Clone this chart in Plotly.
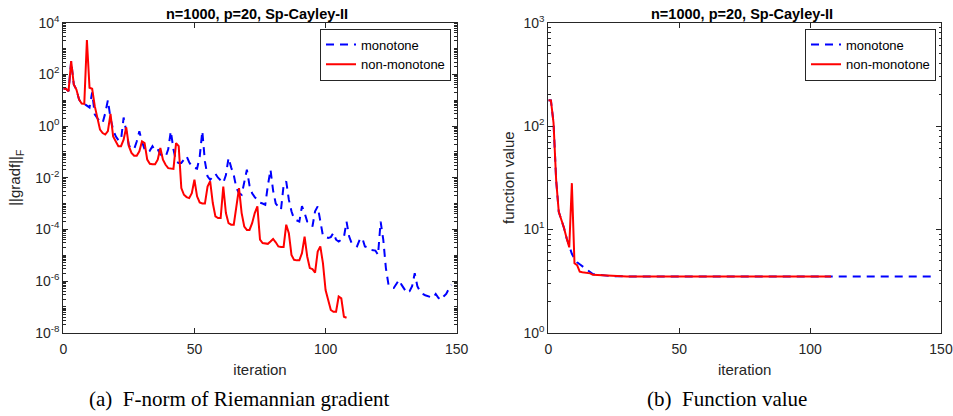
import plotly.graph_objects as go

# ---------------- data ----------------
# left panel: log10 of ||grad f||_F per iteration
grad_mono_log10 = [
    1.44, 1.44, 1.35, 2.51, 1.61, 1.41, 1.03, 0.87, 0.86, 0.78,
    0.72, 1.30, 0.45, 0.30, 0.15, 0.12, 0.50, 1.00, 0.30, -0.15,
    -0.40, -0.55, -0.55, 0.33, -0.30, -0.75, -0.85, -0.90, -0.60, -0.20,
    -0.60, -0.90, -0.85, -0.95, -0.78, -0.95, -0.90, -1.10, -1.15, -1.20,
    -0.90, -0.20, -0.90, -1.37, -1.43, -1.43, -1.30, -1.17, -1.40, -1.56,
    -1.62, -1.65, -1.20, -0.20, -1.37, -1.95, -2.08, -1.95, -1.85, -2.00,
    -2.10, -2.20, -1.90, -1.23, -1.60, -1.90, -2.40, -2.60, -2.66, -2.20,
    -1.69, -2.30, -2.60, -2.75, -2.85, -2.97, -3.00, -3.05, -2.30, -1.69,
    -2.50, -3.00, -3.13, -3.24, -2.30, -2.14, -2.85, -3.30, -3.60, -3.65,
    -3.70, -3.10, -3.36, -3.70, -3.75, -3.89, -3.30, -3.11, -3.75, -4.25,
    -4.30, -4.33, -4.30, -4.13, -4.40, -4.47, -4.40, -4.30, -3.70, -4.28,
    -4.55, -4.62, -4.66, -4.40, -4.33, -4.66, -4.70, -4.79, -4.80, -4.82,
    -4.99, -3.70, -4.40, -5.50, -6.15, -6.25, -6.27, -6.10, -5.96, -6.15,
    -6.30, -6.46, -6.40, -6.20, -5.70, -6.20, -6.40, -6.50, -6.55, -6.60,
    -6.62, -6.65, -6.50, -6.65, -6.73, -6.60, -6.50, -6.30, -6.15,
]
grad_nonmono_log10 = [
    1.44, 1.44, 1.35, 2.51, 1.61, 1.41, 1.03, 0.87, 0.86, 3.33,
    1.48, 1.44, 0.77, 0.25, -0.14, -0.27, -0.33, -0.20, 0.47, -0.40,
    -0.59, -0.78, -0.78, -0.53, -0.05, -0.78, -1.04, -1.15, -1.15, -0.98,
    -0.59, -0.66, -1.30, -1.46, -1.48, -1.48, -1.30, -0.85, -1.30, -1.50,
    -1.63, -1.66, -1.66, -0.66, -0.78, -2.40, -2.66, -2.75, -2.79, -2.60,
    -2.08, -2.72, -2.96, -3.00, -3.00, -2.34, -2.14, -2.98, -3.50, -3.56,
    -3.56, -2.34, -3.37, -3.76, -3.82, -3.82, -3.10, -2.40, -3.37, -3.89,
    -4.02, -4.02, -3.76, -3.37, -3.11, -4.40, -4.53, -4.55, -4.56, -4.47,
    -4.37, -4.50, -4.66, -4.68, -4.68, -3.82, -4.15, -4.99, -5.18, -5.20,
    -5.20, -4.92, -4.28, -5.05, -5.50, -5.54, -5.67, -4.86, -4.66, -5.31,
    -6.35, -6.73, -7.12, -7.19, -7.19, -6.60, -6.67, -7.38, -7.42,
]

# right panel: function value per iteration
fval_mono = [
    178, 177, 107, 30, 14.8, 12.5, 10.3, 8.2, 6.7, 5.8,
    5.2, 4.8, 4.6, 4.4, 4.2, 4.0, 3.8, 3.7, 3.65, 3.62,
    3.6, 3.58, 3.56, 3.54, 3.53, 3.52, 3.51, 3.5, 3.5, 3.5,
    3.5, 3.5, 3.5, 3.5, 3.5, 3.5, 3.5, 3.5, 3.5, 3.5,
    3.5, 3.5, 3.5, 3.5, 3.5, 3.5, 3.5, 3.5, 3.5, 3.5,
    3.5, 3.5, 3.5, 3.5, 3.5, 3.5, 3.5, 3.5, 3.5, 3.5,
    3.5, 3.5, 3.5, 3.5, 3.5, 3.5, 3.5, 3.5, 3.5, 3.5,
    3.5, 3.5, 3.5, 3.5, 3.5, 3.5, 3.5, 3.5, 3.5, 3.5,
    3.5, 3.5, 3.5, 3.5, 3.5, 3.5, 3.5, 3.5, 3.5, 3.5,
    3.5, 3.5, 3.5, 3.5, 3.5, 3.5, 3.5, 3.5, 3.5, 3.5,
    3.5, 3.5, 3.5, 3.5, 3.5, 3.5, 3.5, 3.5, 3.5, 3.5,
    3.5, 3.5, 3.5, 3.5, 3.5, 3.5, 3.5, 3.5, 3.5, 3.5,
    3.5, 3.5, 3.5, 3.5, 3.5, 3.5, 3.5, 3.5, 3.5, 3.5,
    3.5, 3.5, 3.5, 3.5, 3.5, 3.5, 3.5, 3.5, 3.5, 3.5,
    3.5, 3.5, 3.5, 3.5, 3.5, 3.5, 3.5, 3.5, 3.5,
]
fval_nonmono = [
    178, 177, 107, 30, 14.8, 12.5, 10.3, 8.2, 6.7, 28,
    4.7, 4.5, 3.9, 3.85, 3.82, 3.8, 3.75, 3.63, 3.62, 3.6,
    3.6, 3.58, 3.55, 3.53, 3.52, 3.5, 3.5, 3.5, 3.5, 3.5,
    3.5, 3.5, 3.5, 3.5, 3.5, 3.5, 3.5, 3.5, 3.5, 3.5,
    3.5, 3.5, 3.5, 3.5, 3.5, 3.5, 3.5, 3.5, 3.5, 3.5,
    3.5, 3.5, 3.5, 3.5, 3.5, 3.5, 3.5, 3.5, 3.5, 3.5,
    3.5, 3.5, 3.5, 3.5, 3.5, 3.5, 3.5, 3.5, 3.5, 3.5,
    3.5, 3.5, 3.5, 3.5, 3.5, 3.5, 3.5, 3.5, 3.5, 3.5,
    3.5, 3.5, 3.5, 3.5, 3.5, 3.5, 3.5, 3.5, 3.5, 3.5,
    3.5, 3.5, 3.5, 3.5, 3.5, 3.5, 3.5, 3.5, 3.5, 3.5,
    3.5, 3.5, 3.5, 3.5, 3.5, 3.5, 3.5, 3.5, 3.5,
]

series_names = ["monotone", "non-monotone"]
panel_title = "n=1000, p=20, Sp-Cayley-II"
captions = ["(a)  F-norm of Riemannian gradient", "(b)  Function value"]
x_ticks = [0, 50, 100, 150]
left_y_exps = [-8, -6, -4, -2, 0, 2, 4]
right_y_exps = [0, 1, 2, 3]

# ---------------- figure ----------------
W, H = 953, 416
AX = "#262626"
BLUE = "#0000FF"
RED = "#FF0000"
FONT = "Liberation Sans"

def px_x(p):
    return p / W

def px_y(p):
    return 1 - p / H

L_X = [px_x(63.3), px_x(456.7)]
R_X = [px_x(548.3), px_x(941.0)]
Y_DOM = [px_y(332.7), px_y(22.7)]

fig = go.Figure()

grad_mono = [10 ** v for v in grad_mono_log10]
grad_nonmono = [10 ** v for v in grad_nonmono_log10]

fig.add_trace(go.Scatter(x=list(range(len(grad_mono))), y=grad_mono, mode="lines",
                         name=series_names[0], line=dict(color=BLUE, width=2, dash="8px,6px"),
                         xaxis="x", yaxis="y", legend="legend"))
fig.add_trace(go.Scatter(x=list(range(len(grad_nonmono))), y=grad_nonmono, mode="lines",
                         name=series_names[1], line=dict(color=RED, width=2),
                         xaxis="x", yaxis="y", legend="legend"))
fig.add_trace(go.Scatter(x=list(range(len(fval_mono))), y=fval_mono, mode="lines",
                         name=series_names[0], line=dict(color=BLUE, width=2, dash="8px,6px"),
                         xaxis="x2", yaxis="y2", legend="legend2"))
fig.add_trace(go.Scatter(x=list(range(len(fval_nonmono))), y=fval_nonmono, mode="lines",
                         name=series_names[1], line=dict(color=RED, width=2),
                         xaxis="x2", yaxis="y2", legend="legend2"))

def minor_vals(lo, hi):
    vals = []
    for e in range(lo, hi):
        for m in range(1, 10):
            vals.append(m * 10 ** e)
    vals.append(10 ** hi)
    return vals

common_axis = dict(showline=True, linecolor=AX, linewidth=1, mirror="ticks",
                   ticks="inside", ticklen=5, tickcolor=AX, tickwidth=1,
                   showgrid=False, zeroline=False, automargin=False,
                   tickfont=dict(family=FONT, size=14, color=AX))

xcommon = dict(common_axis, range=[0, 150], tickvals=x_ticks,
               ticktext=[str(v) for v in x_ticks], ticklabelstandoff=3,
               title=dict(text="iteration", font=dict(family=FONT, size=15, color=AX), standoff=8))

fig.update_layout(
    width=W, height=H,
    margin=dict(l=0, r=0, t=0, b=0, autoexpand=False),
    paper_bgcolor="white", plot_bgcolor="white",
    xaxis=dict(xcommon, domain=L_X, anchor="y"),
    xaxis2=dict(xcommon, domain=R_X, anchor="y2"),
    yaxis=dict(common_axis, type="log", domain=Y_DOM, anchor="x", range=[-8, 4],
               tickvals=[10 ** e for e in left_y_exps],
               ticktext=["10<sup>%d</sup>" % e for e in left_y_exps],
               minor=dict(ticks="inside", ticklen=2.5, tickcolor=AX,
                          tickvals=minor_vals(-8, 4)),
               title=dict(text="||gradf||<sub>F</sub>", font=dict(family=FONT, size=15, color=AX), standoff=10)),
    yaxis2=dict(common_axis, type="log", domain=Y_DOM, anchor="x2", range=[0, 3],
                tickvals=[10 ** e for e in right_y_exps],
                ticktext=["10<sup>%d</sup>" % e for e in right_y_exps],
                minor=dict(ticks="inside", ticklen=2.5, tickcolor=AX,
                           tickvals=minor_vals(0, 3)),
                title=dict(text="function value", font=dict(family=FONT, size=15, color=AX), standoff=5)),
    legend=dict(x=px_x(451), xanchor="right", y=px_y(28.5), yanchor="top",
                bgcolor="white", bordercolor=AX, borderwidth=1,
                font=dict(family=FONT, size=13, color="black"), itemwidth=30,
                tracegroupgap=0),
    legend2=dict(x=px_x(936), xanchor="right", y=px_y(28.5), yanchor="top",
                 bgcolor="white", bordercolor=AX, borderwidth=1,
                 font=dict(family=FONT, size=13, color="black"), itemwidth=30,
                 tracegroupgap=0),
    showlegend=True,
)

annotations = []
for cx in [(63.3 + 456.7) / 2 - 3, (548.3 + 941.0) / 2 - 3]:
    annotations.append(dict(text="<b>%s</b>" % panel_title, x=px_x(cx), y=px_y(13.5),
                            xref="paper", yref="paper", showarrow=False,
                            xanchor="center", yanchor="middle",
                            font=dict(family=FONT, size=14.5, color="black")))
for cap, cx in zip(captions, [238.5, 727.0]):
    annotations.append(dict(text=cap, x=px_x(cx), y=px_y(398.5),
                            xref="paper", yref="paper", showarrow=False,
                            xanchor="center", yanchor="middle",
                            font=dict(family="Liberation Serif", size=21, color="black")))
fig.update_layout(annotations=annotations)

fig.write_html("out.html", config={"displayModeBar": False},
               post_script="document.body.style.margin='0';document.body.style.overflow='hidden';")
